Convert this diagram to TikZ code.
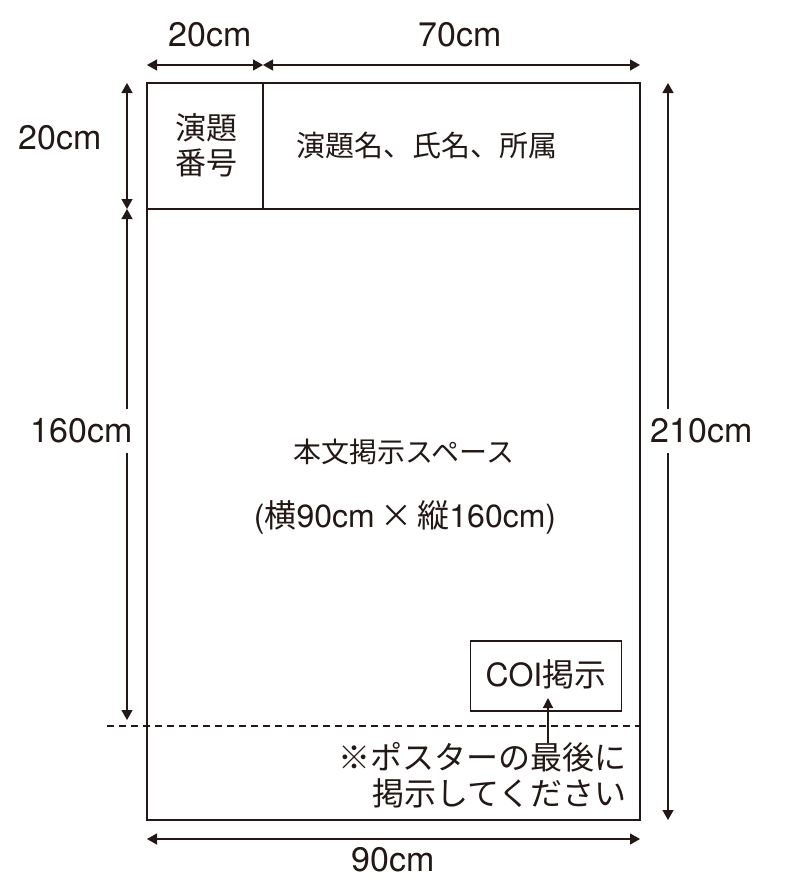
\documentclass[tikz,border=0pt]{standalone}
\usepackage{fontspec}
\setmainfont{TeX Gyre Heros}
\newfontfamily\jp{Noto Sans CJK JP}
\usetikzlibrary{arrows.meta}
\begin{document}
\begin{tikzpicture}[x=1pt,y=-1pt,
  line/.style={line width=1.3pt,draw={rgb,255:red,35;green,24;blue,21}},
  dim/.style={line width=1.3pt,draw={rgb,255:red,35;green,24;blue,21},{Triangle[length=10pt,width=11pt]}-{Triangle[length=10pt,width=11pt]}},
  lbl/.style={inner sep=0pt,font=\fontsize{34}{40}\selectfont,text={rgb,255:red,35;green,24;blue,21}},
  jlbl/.style={inner sep=0pt,font=\jp\fontsize{29}{35}\selectfont,text={rgb,255:red,35;green,24;blue,21}}]
\useasboundingbox (0,0) rectangle (790,886);
% frame
\coordinate (TL) at (147,83);
\coordinate (TR) at (640,83);
\coordinate (BL) at (147,820);
\coordinate (BR) at (640,820);
\coordinate (HL) at (147,209);
\coordinate (HR) at (640,209);
\coordinate (DT) at (263,83);
\coordinate (DB) at (263,209);
\draw[line] (TL) rectangle (BR);
\draw[line] (HL) -- (HR);
\draw[line] (DT) -- (DB);
% dashed line
\coordinate (dL) at (107,726);
\coordinate (dR) at (640,726);
\draw[line,line width=1.1pt,dash pattern=on 7pt off 5pt] (dL) -- (dR);
% dimension arrows
\coordinate (t1) at (147,65);
\coordinate (t2) at (263,65);
\coordinate (t3) at (640,65);
\draw[dim] (t1) -- (t2);
\draw[dim] (t2) -- (t3);
\coordinate (l1) at (127,83);
\coordinate (l2) at (127,209);
\coordinate (l3) at (127,720);
\draw[dim] (l1) -- (l2);
\draw[dim] (l2) -- (l3);
\coordinate (r1) at (668,83);
\coordinate (r2) at (668,820);
\draw[dim] (r1) -- (r2);
\coordinate (b1) at (147,839);
\coordinate (b2) at (640,839);
\draw[dim] (b1) -- (b2);
% dimension labels
\node[lbl] (w20) at (210,35) {20cm};
\node[lbl] (w70) at (460,35) {70cm};
\node[lbl] (h20) at (60,138) {20cm};
\node[lbl,fill=white,inner ysep=10pt,inner xsep=0pt] (h160) at (82,431) {160cm};
\node[lbl,fill=white,inner ysep=10pt,inner xsep=0pt] (h210) at (702,431) {210cm};
\node[lbl] (w90) at (393,860) {90cm};
% header texts
\node[jlbl,font=\jp\fontsize{31}{35}\selectfont,align=center] (num) at (206,145) {演題\\番号};
\node[jlbl] (title) at (427,145) {演題名、氏名、所属};
% body
\node[jlbl,font=\jp\fontsize{28}{34}\selectfont] (body) at (404,452) {本文掲示スペース};
\node[lbl,font=\fontsize{32}{38}\selectfont] (size) at (405,517) {({\jp 横}90cm\,{\jp ×}\,{\jp 縦}160cm)};
% COI box
\node[line,draw,minimum width=151pt,minimum height=70pt,inner sep=0pt] (coi) at (546,676) {};
\node[lbl,font=\fontsize{32}{38}\selectfont] (coit) at (546,674) {COI{\jp 掲示}};
\coordinate (arS) at (548,743);
\coordinate (arE) at (548,698);
\draw[line,-{Triangle[length=10pt,width=10pt]}] (arS) -- (arE);
% note
\node[jlbl,font=\jp\fontsize{32}{36}\selectfont,align=right,anchor=east] (note) at (627,775) {※ポスターの最後に\\掲示してください};
\end{tikzpicture}
\end{document}
